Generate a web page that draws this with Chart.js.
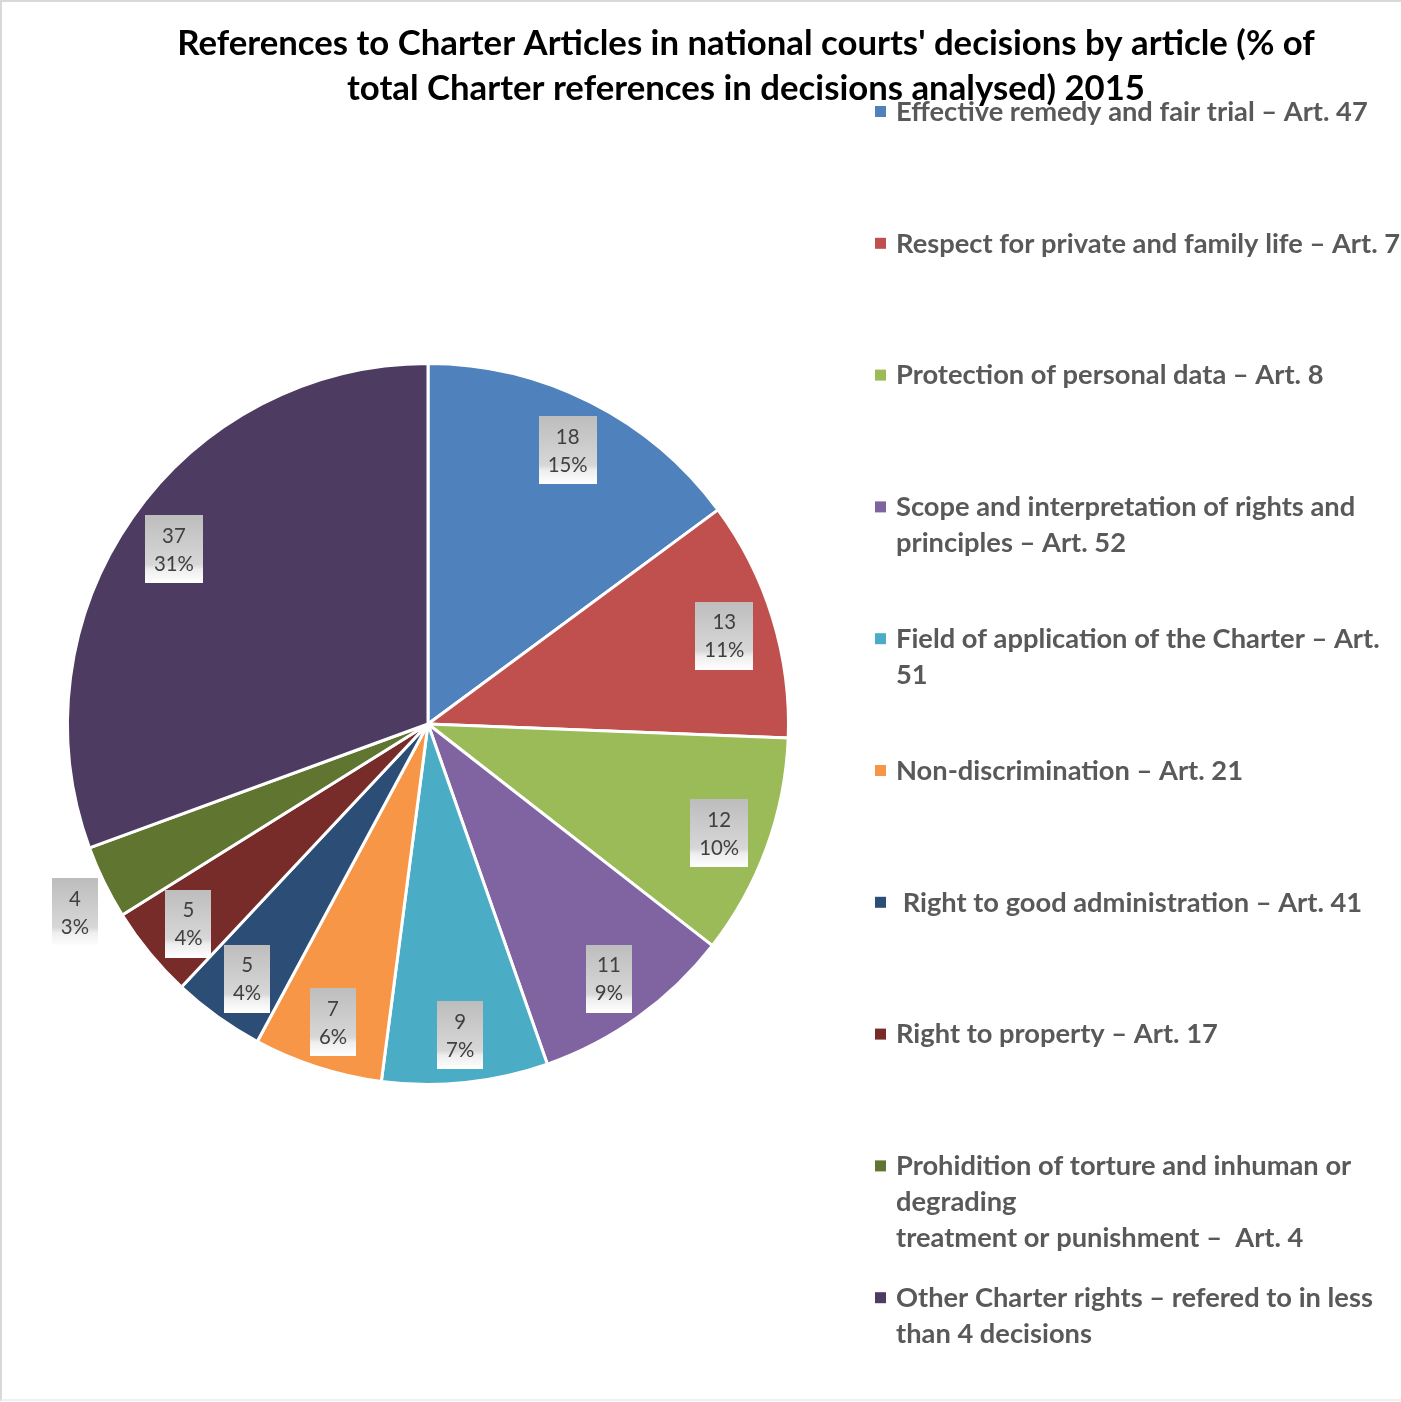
<!DOCTYPE html>
<html>
<head>
<meta charset="utf-8">
<script src="https://cdn.jsdelivr.net/npm/chart.js@4.4.1/dist/chart.umd.min.js"></script>
<style>
  html, body { margin: 0; padding: 0; background: #fff; }
  #wrap { width: 1401px; height: 1402px; }
</style>
</head>
<body>
<div id="wrap"><canvas id="chart" width="1401" height="1402"></canvas></div>
<script>
// Charter articles referenced in national court decisions, 2015
const articles = [
  ['Effective remedy and fair trial – Art. 47'],
  ['Respect for private and family life – Art. 7'],
  ['Protection of personal data – Art. 8'],
  ['Scope and interpretation of rights and', 'principles – Art. 52'],
  ['Field of application of the Charter – Art.', '51'],
  ['Non-discrimination – Art. 21'],
  [' Right to good administration – Art. 41'],
  ['Right to property – Art. 17'],
  ['Prohidition of torture and inhuman or', 'degrading', 'treatment or punishment –  Art. 4'],
  ['Other Charter rights – refered to in less', 'than 4 decisions']
];
const decisions = [18, 13, 12, 11, 9, 7, 5, 5, 4, 37];
const sliceColors = [
  '#4F81BD', '#C0504D', '#9BBB59', '#8064A2', '#4BACC6',
  '#F79646', '#2C4D75', '#772C2A', '#5F7530', '#4D3B62'
];
const titleLines = [
  "References to Charter Articles in national courts' decisions by article (% of",
  'total Charter references in decisions analysed) 2015'
];

// slices whose label does not fit inside and is placed past the rim
const outsideLabels = [8];

const FONT = 'Lato, "Open Sans", sans-serif';
const total = decisions.reduce((s, v) => s + v, 0);

// font size that makes a text run the given width
const fitSize = (ctx, text, weight, width) => {
  ctx.font = `${weight} 100px ${FONT}`;
  return 100 * width / ctx.measureText(text).width;
};

const decorations = {
  id: 'decorations',
  beforeDraw(chart) {
    const ctx = chart.ctx;
    ctx.save();
    ctx.strokeStyle = '#d9d9d9';
    ctx.lineWidth = 2;
    ctx.beginPath();
    ctx.moveTo(1, 1401);
    ctx.lineTo(1, 1);
    ctx.lineTo(1401, 1);
    ctx.stroke();
    ctx.strokeStyle = '#f0f0f0';
    ctx.beginPath();
    ctx.moveTo(1, 1400);
    ctx.lineTo(1401, 1400);
    ctx.stroke();
    ctx.restore();
  },
  afterDatasetsDraw(chart) {
    const ctx = chart.ctx;
    const meta = chart.getDatasetMeta(0);
    const size = fitSize(ctx, '15%', 'normal', 40);
    ctx.save();
    ctx.font = `normal ${size}px ${FONT}`;
    ctx.textAlign = 'center';
    ctx.textBaseline = 'middle';
    meta.data.forEach((arc, i) => {
      const p = arc.getProps(['x', 'y', 'startAngle', 'endAngle', 'outerRadius'], true);
      const mid = (p.startAngle + p.endAngle) / 2;
      const outside = outsideLabels.includes(i);
      const r = p.outerRadius * (outside ? 1.09 : 0.86);
      const cx = p.x + Math.cos(mid) * r;
      const cy = p.y + Math.sin(mid) * r + (outside ? 16 : 3);
      const value = String(decisions[i]);
      const pct = Math.round(decisions[i] / total * 100) + '%';
      const w = Math.max(ctx.measureText(value).width, ctx.measureText(pct).width) + 18;
      const h = 68;
      const grad = ctx.createLinearGradient(0, cy - h / 2, 0, cy + h / 2);
      grad.addColorStop(0, '#bdbdbd');
      grad.addColorStop(0.72, '#d7d7d7');
      grad.addColorStop(0.8, '#eeeeee');
      grad.addColorStop(1, '#ffffff');
      ctx.fillStyle = grad;
      ctx.fillRect(Math.round(cx - w / 2), Math.round(cy - h / 2), Math.round(w), h);
      ctx.fillStyle = '#404040';
      ctx.fillText(value, cx, cy - 13);
      ctx.fillText(pct, cx, cy + 15);
    });
    ctx.restore();
  },
  afterDraw(chart) {
    const ctx = chart.ctx;
    ctx.save();

    // title, two centred lines
    const tSize = fitSize(ctx, titleLines[0], 'bold', 1138);
    ctx.font = `bold ${tSize}px ${FONT}`;
    ctx.fillStyle = '#000';
    ctx.textAlign = 'center';
    ctx.textBaseline = 'middle';
    titleLines.forEach((line, i) => ctx.fillText(line, 746, 44 + i * 45));

    // legend: one slot per article, wrapped lines as given
    const lSize = fitSize(ctx, articles[0][0], 'bold', 472);
    ctx.font = `bold ${lSize}px ${FONT}`;
    ctx.textAlign = 'left';
    articles.forEach((lines, i) => {
      const y = 112 + i * 131.8;
      ctx.fillStyle = sliceColors[i];
      ctx.fillRect(875, y - 6, 11, 11);
      ctx.fillStyle = '#595959';
      lines.forEach((line, j) => ctx.fillText(line, 896, y + j * 36));
    });
    ctx.restore();
  }
};

new Chart(document.getElementById('chart'), {
  type: 'pie',
  data: {
    labels: articles.map(a => a.join(' ')),
    datasets: [{
      data: decisions,
      backgroundColor: sliceColors,
      borderColor: '#ffffff',
      borderWidth: 3
    }]
  },
  options: {
    responsive: false,
    animation: false,
    layout: {
      padding: { left: 66, top: 362, right: 611, bottom: 316 }
    },
    plugins: {
      legend: { display: false },
      tooltip: { enabled: false }
    }
  },
  plugins: [decorations]
});
</script>
</body>
</html>
